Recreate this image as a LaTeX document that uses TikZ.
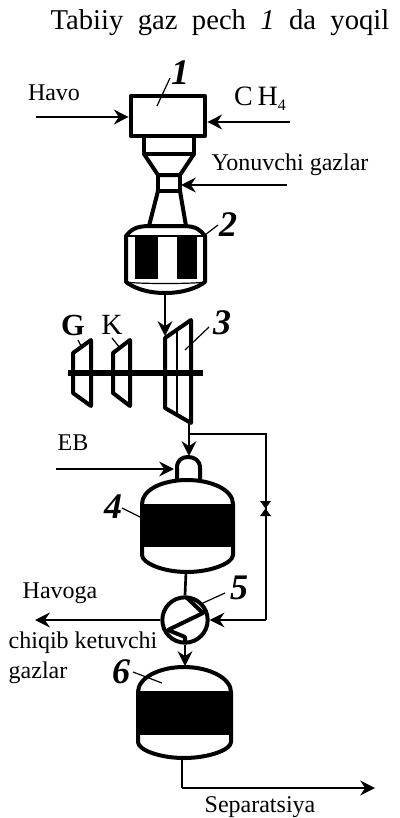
\documentclass[tikz,border=0pt]{standalone}
\usepackage{fontspec}
\setmainfont{Liberation Serif}
\usetikzlibrary{arrows.meta}
\tikzset{
  wall/.style={line width=3pt, line join=round},
  pipe/.style={line width=2pt},
  flow/.style={line width=2pt, -{Stealth[length=11pt,width=11pt]}},
  leader/.style={line width=.9pt},
  yozuv/.style={inner sep=0pt, font=\fontsize{18}{20}\selectfont},
  num/.style={inner sep=0pt, font=\fontsize{27}{30}\selectfont\bfseries\itshape},
}
\begin{document}
\begin{tikzpicture}[x=.75pt,y=-.75pt]
\useasboundingbox (0,0) rectangle (400,818);
\node[yozuv, font=\fontsize{21.5}{24}\selectfont] (head) at (220,23) {Tabiiy\ \ gaz\ \ pech\ \ \textit{1}\ \ da\ \ yoqil};
% pech
\node[draw, wall, minimum width=56pt, minimum height=30pt, inner sep=0pt] (pech) at (168,116) {};
\draw[wall] (144,138) -- (144,154) -- (194,154) -- (194,138);
\draw[wall] (144,154) -- (158,175) -- (180,175) -- (194,154);
\draw[wall] (158,175) -- (158,191) -- (180,191) -- (180,175);
\draw[wall] (158,191) -- (149,226);
\draw[wall] (180,191) -- (186,226);
% reaktor 2
\fill (135,237) rectangle (158,279);
\fill (177,237) rectangle (197,279);
\draw[wall] (126,282) -- (126,236) .. controls ++(5,-6) and ++(-15,0) .. (150,226) -- (182,226) .. controls ++(15,0) and ++(-5,-6) .. (205,236) -- (205,282) .. controls ++(-8,6) and ++(18,0) .. (165,293) .. controls ++(-18,0) and ++(8,6) .. cycle;
\draw[leader] (126,236) -- (205,236);
\draw[leader] (126,282) .. controls ++(10,2) and ++(-10,2) .. (205,282);
\coordinate (r2out) at (165,293);
\coordinate (t3in) at (165,336);
\draw[flow] (r2out) -- (t3in);
% turbina
\draw[wall] (165,338) -- (191,320) -- (191,423) -- (165,408) -- cycle;
\draw[pipe] (177,331) -- (177,416);
\draw[line width=4.5pt] (68,373) -- (203,373);
\draw[wall] (73,353) -- (91,340) -- (91,406) -- (73,393) -- cycle;
\draw[wall] (113,353) -- (130,340) -- (130,406) -- (113,393) -- cycle;
\node[yozuv, font=\fontsize{23}{26}\selectfont\bfseries] (G) at (73,325) {G};
\node[yozuv, font=\fontsize{22}{26}\selectfont] (K) at (112,325) {K};
\draw[leader] (78,340) -- (82,348);
\draw[leader] (112,338) -- (120,348);
% oqimlar
\coordinate (t3out) at (189,423);
\coordinate (tarmoq) at (189,434);
\coordinate (r4in) at (189,456);
\draw[flow] (t3out) -- (r4in);
% reaktor 4
\draw[wall] (177,479) -- (177,468) .. controls ++(0,-8) and ++(-6,0) .. (188,457) .. controls ++(6,0) and ++(0,-8) .. (200,468) -- (200,479);
\fill (142,504) rectangle (233,547);
\draw[wall] (142,555) -- (142,504) .. controls ++(0,-14) and ++(-25,0) .. (187,480) .. controls ++(25,0) and ++(0,-14) .. (233,504) -- (233,555) .. controls ++(0,8) and ++(24,0) .. (187,572) .. controls ++(-24,0) and ++(0,8) .. cycle;
\coordinate (ebin) at (56,469);
\coordinate (ebout) at (174,469);
\draw[flow] (ebin) -- (ebout);
\node[yozuv] (EB) at (73,443) {EB};
% issiqlik almashtirgich 5
\node[draw, wall, circle, minimum size=34pt, inner sep=0pt] (ia) at (185,620) {};
\draw[pipe] (186,572) -- (ia.north);
\draw[wall] (186,597) -- (203,613) -- (168,630) -- (185,637) -- (185,643);
\coordinate (venttepa) at (266,434);
\coordinate (ventpast) at (266,620);
\draw[pipe] (tarmoq) -- (venttepa) -- (ventpast);
\draw[flow] (ventpast) -- (ia.east);
\coordinate (havoga) at (35,620);
\draw[flow] (ia.west) -- (havoga);
\fill (260,501) -- (271,501) -- (260,516) -- (271,516) -- cycle;
% reaktor 6
\fill (138,691) rectangle (231,735);
\draw[wall] (138,742) -- (138,692) .. controls ++(0,-14) and ++(-25,0) .. (184,667) .. controls ++(25,0) and ++(0,-14) .. (231,692) -- (231,742) .. controls ++(0,8) and ++(24,0) .. (184,758) .. controls ++(-24,0) and ++(0,8) .. cycle;
\coordinate (r6top) at (185,666);
\draw[flow] (ia.south) -- (r6top);
\coordinate (r6out) at (182,758);
\coordinate (burilish) at (182,788);
\coordinate (separ) at (375,788);
\draw[pipe] (r6out) -- (burilish);
\draw[flow] (burilish) -- (separ);
% oqim kirishlari
\coordinate (havoin) at (36,117);
\coordinate (ch4in) at (290,122);
\coordinate (yonin) at (287,185);
\coordinate (yonout) at (181,185);
\draw[flow] (havoin) -- (pech.west |- havoin);
\draw[flow] (ch4in) -- (pech.east |- ch4in);
\draw[flow] (yonin) -- (yonout);
% yozuvlar
\node[yozuv] (havo) at (54,93) {Havo};
\node[yozuv, font=\fontsize{21}{24}\selectfont] (ch4) at (260,99) {C\,H\raisebox{-4pt}{\fontsize{12}{12}\selectfont 4}};
\node[yozuv] (yonuvchi) at (290,165) {Yonuvchi gazlar};
\node[yozuv] (havogat) at (60,593) {Havoga};
\node[yozuv] (chiqib) at (83,643) {chiqib ketuvchi};
\node[yozuv] (gazlar) at (38,673) {gazlar};
\node[yozuv] (separt) at (260,807) {Separatsiya};
% raqamlar
\node[num] (n1) at (180,73) {1};
\draw[leader] (170,78) -- (157,106);
\node[num] (n2) at (228,225) {2};
\draw[leader] (218,225) -- (205,235);
\node[num] (n3) at (222,323) {3};
\draw[leader] (209,327) -- (185,350);
\node[num] (n4) at (113,507) {4};
\draw[leader] (122,508) -- (140,517);
\node[num] (n5) at (239,588) {5};
\draw[leader] (225,593) -- (203,603);
\node[num] (n6) at (121,672) {6};
\draw[leader] (133,672) -- (162,683);
\end{tikzpicture}
\end{document}
